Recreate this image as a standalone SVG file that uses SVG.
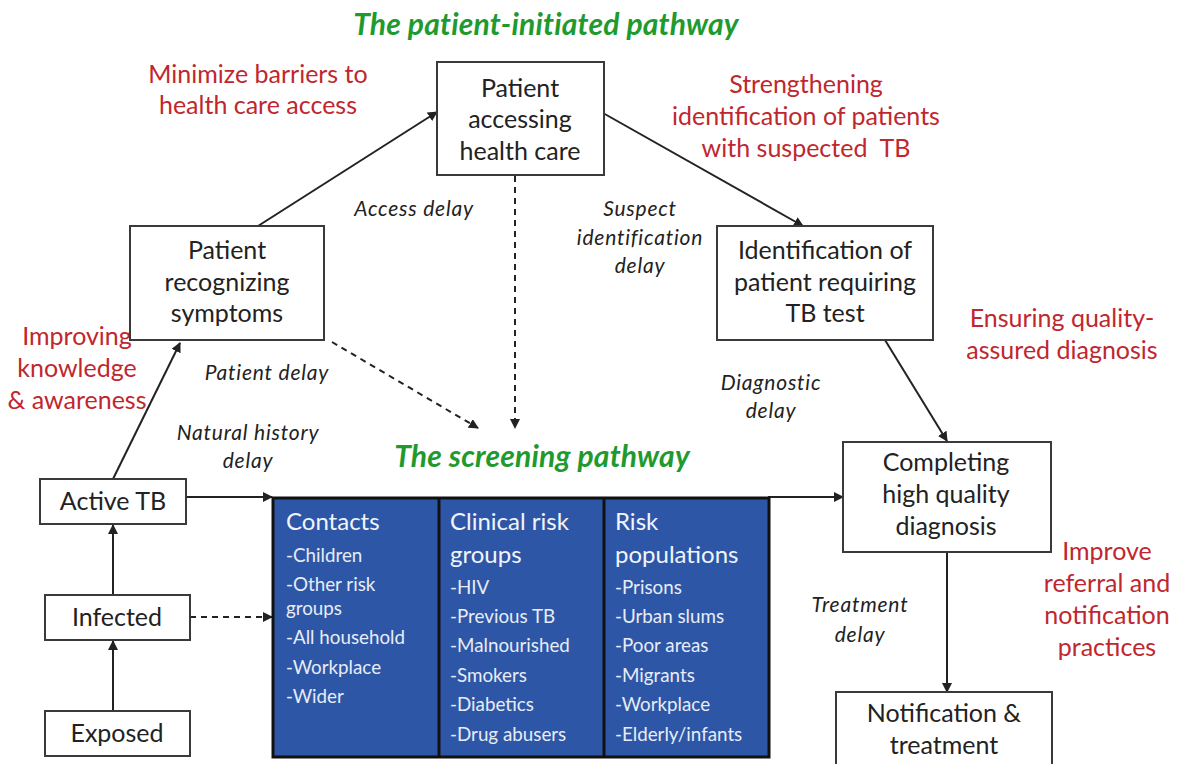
<svg xmlns="http://www.w3.org/2000/svg" width="1182" height="764" viewBox="0 0 1182 764">
  <style>
    .box { fill: #ffffff; stroke: #3a3a3a; stroke-width: 2; }
    .node { font-family: Lato, "Open Sans", sans-serif; font-size: 25px; fill: #222; text-anchor: middle; }
    .red { font-family: Lato, "Open Sans", sans-serif; font-size: 25px; fill: #c0272d; text-anchor: middle; white-space: pre; }
    .delay { font-family: Lato, "Open Sans", sans-serif; font-size: 21px; letter-spacing: 0.8px; font-style: italic; fill: #222; text-anchor: middle; }
    .green { font-family: Lato, "Open Sans", sans-serif; font-size: 30px; letter-spacing: 0.2px; font-style: italic; font-weight: bold; fill: #1e9a2e; text-anchor: middle; }
    .hd { font-family: Lato, "Open Sans", sans-serif; font-size: 24px; fill: #f2f4fa; }
    .it { font-family: Lato, "Open Sans", sans-serif; font-size: 18.8px; fill: #e8ecf6; }
    .line { stroke: #222; stroke-width: 2; fill: none; }
    .dash { stroke: #222; stroke-width: 2; fill: none; stroke-dasharray: 6 5; }
  </style>
  <defs>
    <marker id="arr" viewBox="0 0 10 10" refX="9" refY="5" markerWidth="5" markerHeight="5" orient="auto">
      <path d="M0,0 L10,5 L0,10 z" fill="#222"/>
    </marker>
  </defs>
  <rect width="1182" height="764" fill="#ffffff"/>

  <!-- pathway titles -->
  <text class="green" x="546" y="35">The patient-initiated pathway</text>
  <text class="green" x="542" y="467">The screening pathway</text>

  <!-- intervention notes -->
  <text class="red" x="258" y="83">Minimize barriers to</text>
  <text class="red" x="258" y="114">health care access</text>
  <text class="red" x="806" y="93">Strengthening</text>
  <text class="red" x="806" y="125">identification of patients</text>
  <text class="red" x="806" y="157" xml:space="preserve">with suspected  TB</text>
  <text class="red" x="1062" y="327">Ensuring quality-</text>
  <text class="red" x="1062" y="359">assured diagnosis</text>
  <text class="red" x="1107" y="560">Improve</text>
  <text class="red" x="1107" y="592">referral and</text>
  <text class="red" x="1107" y="624">notification</text>
  <text class="red" x="1107" y="656">practices</text>
  <text class="red" x="77" y="345">Improving</text>
  <text class="red" x="77" y="377">knowledge</text>
  <text class="red" x="77" y="409">&amp; awareness</text>

  <!-- delay labels -->
  <text class="delay" x="414" y="216">Access delay</text>
  <text class="delay" x="640" y="216">Suspect</text>
  <text class="delay" x="640" y="245">identification</text>
  <text class="delay" x="640" y="273">delay</text>
  <text class="delay" x="267" y="380">Patient delay</text>
  <text class="delay" x="248" y="440">Natural history</text>
  <text class="delay" x="248" y="468">delay</text>
  <text class="delay" x="771" y="390">Diagnostic</text>
  <text class="delay" x="771" y="418">delay</text>
  <text class="delay" x="860" y="612">Treatment</text>
  <text class="delay" x="860" y="642">delay</text>

  <!-- connectors -->
  <g id="connectors">
    <line class="line" x1="113" y1="479" x2="180" y2="343" marker-end="url(#arr)"/>
    <line class="line" x1="258" y1="226" x2="437" y2="112" marker-end="url(#arr)"/>
    <line class="line" x1="603" y1="113" x2="803" y2="226" marker-end="url(#arr)"/>
    <line class="line" x1="885" y1="340" x2="947" y2="441" marker-end="url(#arr)"/>
    <line class="line" x1="947" y1="552" x2="947" y2="692" marker-end="url(#arr)"/>
    <line class="line" x1="186" y1="497" x2="272" y2="497" marker-end="url(#arr)"/>
    <line class="line" x1="768" y1="497" x2="843" y2="497" marker-end="url(#arr)"/>
    <line class="line" x1="113" y1="595" x2="113" y2="525" marker-end="url(#arr)"/>
    <line class="line" x1="113" y1="711" x2="113" y2="641" marker-end="url(#arr)"/>
    <line class="dash" x1="190" y1="617" x2="272" y2="617" marker-end="url(#arr)"/>
    <line class="dash" x1="332" y1="342" x2="478" y2="428" marker-end="url(#arr)"/>
    <line class="dash" x1="515" y1="176" x2="515" y2="428" marker-end="url(#arr)"/>
  </g>

  <!-- patient-initiated pathway nodes -->
  <g id="patient-accessing">
    <rect class="box" x="437" y="62" width="167" height="113"/>
    <text class="node" x="520" y="97">Patient</text>
    <text class="node" x="520" y="128">accessing</text>
    <text class="node" x="520" y="160">health care</text>
  </g>
  <g id="patient-recognizing">
    <rect class="box" x="130" y="226" width="194" height="114"/>
    <text class="node" x="227" y="259">Patient</text>
    <text class="node" x="227" y="291">recognizing</text>
    <text class="node" x="227" y="322">symptoms</text>
  </g>
  <g id="identification">
    <rect class="box" x="717" y="226" width="216" height="114"/>
    <text class="node" x="825" y="259">Identification of</text>
    <text class="node" x="825" y="291">patient requiring</text>
    <text class="node" x="825" y="322">TB test</text>
  </g>
  <g id="completing">
    <rect class="box" x="843" y="442" width="208" height="110"/>
    <text class="node" x="946" y="471">Completing</text>
    <text class="node" x="946" y="503">high quality</text>
    <text class="node" x="946" y="535">diagnosis</text>
  </g>
  <g id="notification">
    <rect class="box" x="836" y="692" width="216" height="80"/>
    <text class="node" x="944" y="722">Notification &amp;</text>
    <text class="node" x="944" y="754">treatment</text>
  </g>

  <!-- natural history nodes -->
  <g id="active-tb">
    <rect class="box" x="40" y="479" width="146" height="45"/>
    <text class="node" x="113" y="510">Active TB</text>
  </g>
  <g id="infected">
    <rect class="box" x="45" y="595" width="145" height="45"/>
    <text class="node" x="117" y="626">Infected</text>
  </g>
  <g id="exposed">
    <rect class="box" x="45" y="711" width="145" height="45"/>
    <text class="node" x="117" y="742">Exposed</text>
  </g>

  <!-- screening target groups -->
  <g id="screening-groups">
    <rect x="273" y="498" width="496" height="259" fill="#2d57a6" stroke="#111" stroke-width="3"/>
    <line x1="439" y1="498" x2="439" y2="757" stroke="#111" stroke-width="3"/>
    <line x1="604" y1="498" x2="604" y2="757" stroke="#111" stroke-width="3"/>

    <text class="hd" x="286" y="530">Contacts</text>
    <text class="it" x="286" y="562">-Children</text>
    <text class="it" x="286" y="591">-Other risk</text>
    <text class="it" x="286" y="615">groups</text>
    <text class="it" x="286" y="644">-All household</text>
    <text class="it" x="286" y="674">-Workplace</text>
    <text class="it" x="286" y="703">-Wider</text>

    <text class="hd" x="450" y="530">Clinical risk</text>
    <text class="hd" x="450" y="563">groups</text>
    <text class="it" x="450" y="594">-HIV</text>
    <text class="it" x="450" y="623">-Previous TB</text>
    <text class="it" x="450" y="652">-Malnourished</text>
    <text class="it" x="450" y="682">-Smokers</text>
    <text class="it" x="450" y="711">-Diabetics</text>
    <text class="it" x="450" y="741">-Drug abusers</text>

    <text class="hd" x="615" y="530">Risk</text>
    <text class="hd" x="615" y="563">populations</text>
    <text class="it" x="615" y="594">-Prisons</text>
    <text class="it" x="615" y="623">-Urban slums</text>
    <text class="it" x="615" y="652">-Poor areas</text>
    <text class="it" x="615" y="682">-Migrants</text>
    <text class="it" x="615" y="711">-Workplace</text>
    <text class="it" x="615" y="741">-Elderly/infants</text>
  </g>
</svg>
